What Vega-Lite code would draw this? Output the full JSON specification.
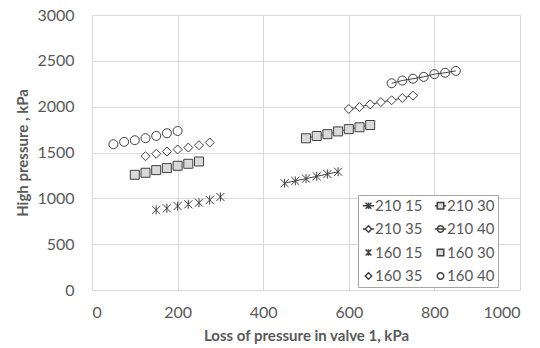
{
  "$schema": "https://vega.github.io/schema/vega-lite/v6.json",
  "width": 428,
  "height": 275,
  "autosize": {"type": "none"},
  "padding": {"left": 92, "top": 15, "right": 20, "bottom": 58},
  "background": "white",
  "config": {
    "font": "Lato",
    "view": {"stroke": null},
    "axis": {
      "grid": true,
      "gridColor": "#d9d9d9",
      "gridWidth": 1,
      "domainColor": "#d9d9d9",
      "ticks": false,
      "labelFont": "Lato",
      "labelFontSize": 16,
      "labelColor": "#595959",
      "titleFont": "Lato",
      "titleFontSize": 15,
      "titleFontWeight": "bold",
      "titleColor": "#595959"
    }
  },
  "data": {
    "values": [
      {"series": "210 15", "g": "210", "x": 450, "y": 1165},
      {"series": "210 15", "g": "210", "x": 475, "y": 1190},
      {"series": "210 15", "g": "210", "x": 500, "y": 1215},
      {"series": "210 15", "g": "210", "x": 525, "y": 1240},
      {"series": "210 15", "g": "210", "x": 550, "y": 1265},
      {"series": "210 15", "g": "210", "x": 575, "y": 1290},
      {"series": "210 30", "g": "210", "x": 500, "y": 1655},
      {"series": "210 30", "g": "210", "x": 525, "y": 1680},
      {"series": "210 30", "g": "210", "x": 550, "y": 1700},
      {"series": "210 30", "g": "210", "x": 575, "y": 1730},
      {"series": "210 30", "g": "210", "x": 600, "y": 1755},
      {"series": "210 30", "g": "210", "x": 625, "y": 1775},
      {"series": "210 30", "g": "210", "x": 650, "y": 1800},
      {"series": "210 35", "g": "210", "x": 600, "y": 1975},
      {"series": "210 35", "g": "210", "x": 625, "y": 1995},
      {"series": "210 35", "g": "210", "x": 650, "y": 2025},
      {"series": "210 35", "g": "210", "x": 675, "y": 2050},
      {"series": "210 35", "g": "210", "x": 700, "y": 2070},
      {"series": "210 35", "g": "210", "x": 725, "y": 2095},
      {"series": "210 35", "g": "210", "x": 750, "y": 2120},
      {"series": "210 40", "g": "210", "x": 700, "y": 2255},
      {"series": "210 40", "g": "210", "x": 725, "y": 2285},
      {"series": "210 40", "g": "210", "x": 750, "y": 2305},
      {"series": "210 40", "g": "210", "x": 775, "y": 2325},
      {"series": "210 40", "g": "210", "x": 800, "y": 2355},
      {"series": "210 40", "g": "210", "x": 825, "y": 2370},
      {"series": "210 40", "g": "210", "x": 850, "y": 2390},
      {"series": "160 15", "g": "160", "x": 150, "y": 873},
      {"series": "160 15", "g": "160", "x": 175, "y": 891},
      {"series": "160 15", "g": "160", "x": 200, "y": 916},
      {"series": "160 15", "g": "160", "x": 225, "y": 935},
      {"series": "160 15", "g": "160", "x": 250, "y": 952},
      {"series": "160 15", "g": "160", "x": 275, "y": 982},
      {"series": "160 15", "g": "160", "x": 300, "y": 1015},
      {"series": "160 30", "g": "160", "x": 100, "y": 1257},
      {"series": "160 30", "g": "160", "x": 125, "y": 1279},
      {"series": "160 30", "g": "160", "x": 150, "y": 1308},
      {"series": "160 30", "g": "160", "x": 175, "y": 1330},
      {"series": "160 30", "g": "160", "x": 200, "y": 1355},
      {"series": "160 30", "g": "160", "x": 225, "y": 1377},
      {"series": "160 30", "g": "160", "x": 250, "y": 1402},
      {"series": "160 35", "g": "160", "x": 125, "y": 1460},
      {"series": "160 35", "g": "160", "x": 150, "y": 1486},
      {"series": "160 35", "g": "160", "x": 175, "y": 1511},
      {"series": "160 35", "g": "160", "x": 200, "y": 1533},
      {"series": "160 35", "g": "160", "x": 225, "y": 1554},
      {"series": "160 35", "g": "160", "x": 250, "y": 1580},
      {"series": "160 35", "g": "160", "x": 275, "y": 1609},
      {"series": "160 40", "g": "160", "x": 50, "y": 1590},
      {"series": "160 40", "g": "160", "x": 75, "y": 1616},
      {"series": "160 40", "g": "160", "x": 100, "y": 1634},
      {"series": "160 40", "g": "160", "x": 125, "y": 1656},
      {"series": "160 40", "g": "160", "x": 150, "y": 1681},
      {"series": "160 40", "g": "160", "x": 175, "y": 1710},
      {"series": "160 40", "g": "160", "x": 200, "y": 1735}
    ]
  },
  "resolve": {
    "scale": {"shape": "independent", "fill": "independent"},
    "legend": {"shape": "independent", "fill": "independent"}
  },
  "layer": [
    {
      "transform": [{"filter": "datum.g == '210'"}],
      "mark": {"type": "line", "stroke": "#404040", "strokeWidth": 1},
      "encoding": {
        "x": {"field": "x", "type": "quantitative", "scale": {"domain": [0, 1000]}},
        "y": {"field": "y", "type": "quantitative", "scale": {"domain": [0, 3000]}},
        "detail": {"field": "series"}
      }
    },
    {
      "mark": {"type": "point", "filled": true, "stroke": "#404040", "strokeWidth": 1, "opacity": 1, "size": 81},
      "encoding": {
        "x": {
          "field": "x", "type": "quantitative",
          "scale": {"domain": [0, 1000]},
          "axis": {"values": [0, 200, 400, 600, 800, 1000], "format": "d", "labelPadding": 14, "titlePadding": 8, "title": "Loss of pressure in valve 1, kPa"}
        },
        "y": {
          "field": "y", "type": "quantitative",
          "scale": {"domain": [0, 3000]},
          "axis": {"values": [0, 500, 1000, 1500, 2000, 2500, 3000], "format": "d", "labelPadding": 18, "titlePadding": 6, "title": "High pressure , kPa"}
        },
        "shape": {
          "field": "series", "type": "nominal",
          "scale": {
            "domain": ["210 15", "210 30", "210 35", "210 40", "160 15", "160 30", "160 35", "160 40"],
            "range": [
              "M-0.9,-0.9L0.9,0.9M-0.9,0.9L0.9,-0.9M0,-1L0,1",
              "M-1,-1H1V1H-1Z",
              "M0,-1L1,0L0,1L-1,0Z",
              "M1,0A1,1,0,1,1,-1,0A1,1,0,1,1,1,0Z",
              "M-0.9,-0.9L0.9,0.9M-0.9,0.9L0.9,-0.9M0,-1L0,1",
              "M-1,-1H1V1H-1Z",
              "M0,-1L1,0L0,1L-1,0Z",
              "M1,0A1,1,0,1,1,-1,0A1,1,0,1,1,1,0Z"
            ]
          },
          "legend": null
        },
        "fill": {
          "field": "series", "type": "nominal",
          "scale": {
            "domain": ["210 15", "210 30", "210 35", "210 40", "160 15", "160 30", "160 35", "160 40"],
            "range": ["transparent", "#d9d9d9", "white", "transparent", "transparent", "#d9d9d9", "white", "white"]
          },
          "legend": null
        }
      }
    },
    {
      "mark": {"type": "point", "filled": true, "stroke": "#404040", "strokeWidth": 1, "opacity": 0, "size": 81},
      "encoding": {
        "x": {"field": "x", "type": "quantitative", "scale": {"domain": [0, 1000]}},
        "y": {"field": "y", "type": "quantitative", "scale": {"domain": [0, 3000]}},
        "shape": {
          "field": "series", "type": "nominal",
          "scale": {
            "domain": ["210 15", "210 30", "210 35", "210 40", "160 15", "160 30", "160 35", "160 40"],
            "range": [
              "M-0.9,-0.9L0.9,0.9M-0.9,0.9L0.9,-0.9M0,-1L0,1M-1.75,0L1.75,0",
              "M-1,-1H1V1H-1ZM-1.75,0L-1,0M1,0L1.75,0",
              "M0,-1L1,0L0,1L-1,0ZM-1.75,0L-1,0M1,0L1.75,0",
              "M1,0A1,1,0,1,1,-1,0A1,1,0,1,1,1,0ZM-1.75,0L1.75,0",
              "M-0.9,-0.9L0.9,0.9M-0.9,0.9L0.9,-0.9M0,-1L0,1",
              "M-1,-1H1V1H-1Z",
              "M0,-1L1,0L0,1L-1,0Z",
              "M1,0A1,1,0,1,1,-1,0A1,1,0,1,1,1,0Z"
            ]
          },
          "legend": {
            "title": null,
            "orient": "none",
            "legendX": 266,
            "legendY": 180,
            "columns": 2,
            "direction": "horizontal",
            "strokeColor": "#a6a6a6",
            "fillColor": "white",
            "padding": 3,
            "rowPadding": 7.5,
            "columnPadding": 8,
            "labelOffset": -1,
            "labelFont": "Lato",
            "labelFontSize": 15,
            "labelColor": "#595959",
            "symbolSize": 42,
            "symbolOpacity": 1,
            "labelExpr": "indexof(['210 30','210 40','160 30','160 40'], datum.label) >= 0 ? datum.label + '     ' : datum.label",
            "encode": {
              "symbols": {
                "update": {
                  "stroke": {"value": "#404040"},
                  "strokeWidth": {"value": 1},
                  "opacity": {"value": 1}
                }
              }
            }
          }
        },
        "fill": {
          "field": "series", "type": "nominal",
          "scale": {
            "domain": ["210 15", "210 30", "210 35", "210 40", "160 15", "160 30", "160 35", "160 40"],
            "range": ["transparent", "#d9d9d9", "white", "transparent", "transparent", "#d9d9d9", "white", "white"]
          }
        }
      }
    }
  ]
}
